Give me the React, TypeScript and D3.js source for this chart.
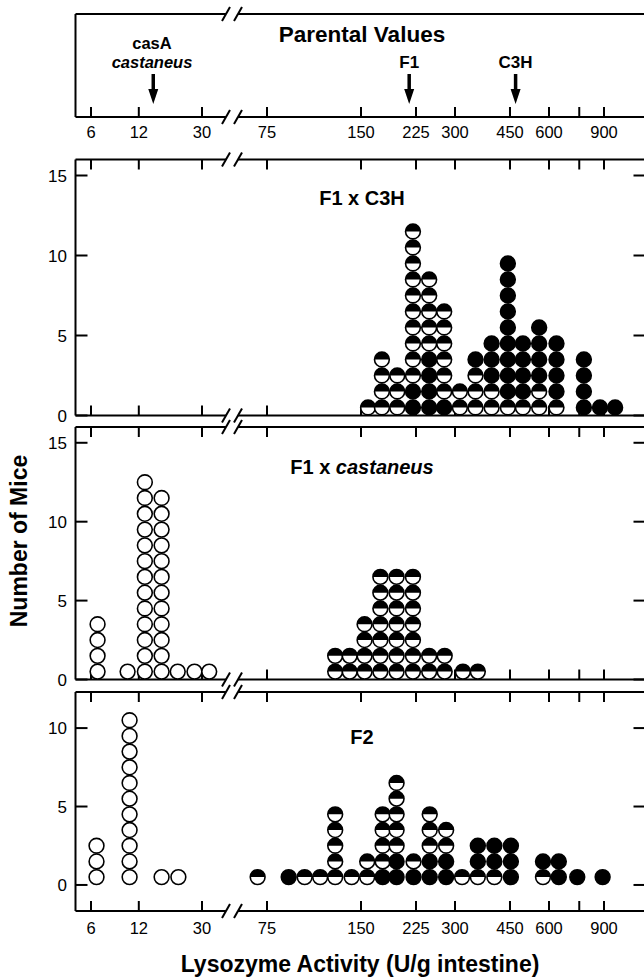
import React from "react";
import * as d3 from "d3";

const FONT = "'Liberation Sans', Arial, Helvetica, sans-serif";

// x axis (broken log axis): ticks on each side of the break
const leftTicks = [6, 12, 30];
const leftTickLabels = ["6", "12", "30"];
const rightTicks = [75, 150, 225, 300, 450, 600, 750, 900];
const rightTickLabels = ["75", "150", "225", "300", "450", "600", "", "900"];

// parental values (arrows in the top box)
const parentNames = ["casA", "F1", "C3H"];
const parentValues = [14.8, 214, 469];

// dot codes, bottom to top: H = half filled (top black), F = filled, O = open
// F1 x C3H backcross
const bcC3HValues = [158, 175, 196, 220, 248, 277, 311, 349, 393, 443, 495, 558, 634, 776, 874, 977];
const bcC3HDots = [
  "H", "HHHH", "HHH", "FFHHHHHHHHHH", "FFFFHHHHH", "FHHHHHH", "HH", "HHHF",
  "HHFFF", "HFFFFFFFFF", "HFFFF", "HHFFFF", "HFFFF", "FFFF", "F", "F",
];

// F1 x castaneus backcross
const bcCastValues = [6.6, 10.2, 13.1, 16.7, 21.1, 26.9, 33.3, 124, 138, 154, 173, 195, 220, 248, 278, 318, 355];
const bcCastDots = [
  "OOOO", "O", "OOOOOOOOOOOOO", "OOOOOOOOOOOO", "O", "O", "O",
  "HH", "HH", "HHHH", "HHHHHHH", "HHHHHHH", "HHHHHHH", "HH", "HH", "H", "H",
];

// F2 intercross
const f2Values = [6.5, 10.5, 16.7, 21.3, 70, 88, 99, 111, 124, 140, 157, 176, 195, 221, 249, 281, 316, 355, 401, 453, 574, 645, 739, 891];
const f2Dots = [
  "OOO", "OOOOOOOOOOO", "O", "O", "H", "F", "H", "H", "HHHHH", "H", "HH", "FHHHH",
  "FFHHHHH", "FH", "FFHHH", "FFHH", "H", "HFF", "HFF", "FFF", "HF", "FF", "F", "F",
];

const X0 = 75.5;
const X1 = 645.5;
const B0 = 226;
const B1 = 238;
const R = 7.4;

export default function App() {
  const xLeft = d3.scaleLog().domain([6, 30]).range([91, 202]);
  const xRight = d3.scaleLog().domain([150, 600]).range([361, 549]);
  const xPos = (v: number) => (v < 50 ? xLeft(v) : xRight(v));

  const tickXs = [...leftTicks.map((v) => xLeft(v)), ...rightTicks.map((v) => xRight(v))];
  const tickLabels = [...leftTickLabels, ...rightTickLabels];

  // horizontal frame line with the axis break and inward ticks
  const hline = (y: number, dir: number, key: string) => (
    <g key={key}>
      <line x1={X0} x2={B0} y1={y} y2={y} />
      <line x1={B1} x2={X1} y1={y} y2={y} />
      <line x1={B0 - 4} y1={y + 7} x2={B0 + 4} y2={y - 7} />
      <line x1={B1 - 4} y1={y + 7} x2={B1 + 4} y2={y - 7} />
      {dir !== 0 &&
        tickXs.map((tx, i) => <line key={i} x1={tx} x2={tx} y1={y} y2={y + dir * 10} />)}
    </g>
  );

  const panels = [
    { key: "c3h", top: 159.5, bottom: 415.5, domain: [0, 16], yTicks: [0, 5, 10, 15], values: bcC3HValues, dots: bcC3HDots },
    { key: "cast", top: 427, bottom: 679.5, domain: [0, 16], yTicks: [0, 5, 10, 15], values: bcCastValues, dots: bcCastDots },
    { key: "f2", top: 692, bottom: 911, domain: [-1.66, 12.3], yTicks: [0, 5, 10], values: f2Values, dots: f2Dots },
  ];

  const dot = (cx: number, cy: number, kind: string, key: string) => (
    <g key={key}>
      <circle cx={cx} cy={cy} r={R} fill={kind === "F" ? "#000" : "#fff"} stroke="#000" strokeWidth={1.6} />
      {kind === "H" && (
        <path d={`M${cx - R},${cy} A${R},${R} 0 0 1 ${cx + R},${cy} Z`} fill="#000" />
      )}
    </g>
  );

  return (
    <svg width={644} height={978} style={{ display: "block", position: "absolute", left: 0, top: 0 }} fontFamily={FONT}>
      <rect width={644} height={978} fill="#fff" />

      {/* top box: parental values */}
      <g stroke="#000" strokeWidth={2} fill="none">
        <line x1={X0} x2={X0} y1={14} y2={117} />
        {hline(14, 0, "p1t")}
        {hline(117, -1, "p1b")}
      </g>
      <text x={362} y={42} textAnchor="middle" fontSize={22.5} fontWeight="bold">Parental Values</text>
      <text x={152} y={49} textAnchor="middle" fontSize={16.5} fontWeight="bold">casA</text>
      <text x={152} y={67.5} textAnchor="middle" fontSize={16.5} fontWeight="bold" fontStyle="italic">castaneus</text>
      {parentValues.map((v, i) => {
        const x = xPos(v);
        return (
          <g key={i}>
            {i > 0 && (
              <text x={x} y={67.5} textAnchor="middle" fontSize={17} fontWeight="bold">{parentNames[i]}</text>
            )}
            <line x1={x} x2={x} y1={74} y2={91} stroke="#000" strokeWidth={3.5} />
            <path d={`M${x - 5},${89} L${x + 5},${89} L${x},${104} Z`} fill="#000" />
          </g>
        );
      })}
      {tickXs.map((tx, i) => (
        <text key={i} x={tx} y={138} textAnchor="middle" fontSize={16.5}>{tickLabels[i]}</text>
      ))}

      {/* dot plot panels */}
      {panels.map((p) => {
        const y = d3.scaleLinear().domain(p.domain).range([p.bottom, p.top]);
        return (
          <g key={p.key}>
            <g stroke="#000" strokeWidth={2} fill="none">
              <line x1={X0} x2={X0} y1={p.top} y2={p.bottom} />
              <line x1={X1} x2={X1} y1={p.top} y2={p.bottom} />
              {hline(p.top, 1, p.key + "t")}
              {hline(p.bottom, -1, p.key + "b")}
              {p.yTicks.map((t) => (
                <g key={t}>
                  <line x1={X0} x2={X0 + 12} y1={y(t)} y2={y(t)} />
                  <line x1={X1 - 12} x2={X1} y1={y(t)} y2={y(t)} />
                </g>
              ))}
            </g>
            {p.yTicks.map((t) => (
              <text key={t} x={67} y={y(t)} dy="0.36em" textAnchor="end" fontSize={17}>{t}</text>
            ))}
            {p.values.map((v, ci) =>
              p.dots[ci].split("").map((k, ri) => dot(xPos(v), y(ri + 0.5), k, `${ci}-${ri}`))
            )}
          </g>
        );
      })}

      <text x={362} y={205} textAnchor="middle" fontSize={20} fontWeight="bold">F1 x C3H</text>
      <text x={362} y={474} textAnchor="middle" fontSize={20} fontWeight="bold">
        F1 x <tspan fontStyle="italic">castaneus</tspan>
      </text>
      <text x={362} y={744} textAnchor="middle" fontSize={20} fontWeight="bold">F2</text>

      {tickXs.map((tx, i) => (
        <text key={i} x={tx} y={934} textAnchor="middle" fontSize={16.5}>{tickLabels[i]}</text>
      ))}

      <text x={360} y={972} textAnchor="middle" fontSize={23} fontWeight="bold">Lysozyme Activity (U/g intestine)</text>
      <text transform="translate(27,541) rotate(-90)" textAnchor="middle" fontSize={23} fontWeight="bold">Number of Mice</text>
    </svg>
  );
}
